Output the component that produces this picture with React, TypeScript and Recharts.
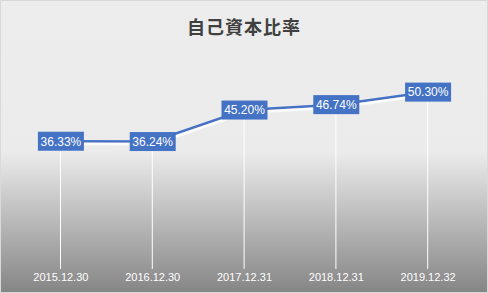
import React from 'react';
import { ComposedChart, Line, Bar, XAxis, YAxis, LabelList } from 'recharts';

const categories = ["2015.12.30", "2016.12.30", "2017.12.31", "2018.12.31", "2019.12.32"];
const ratios = [36.33, 36.24, 45.2, 46.74, 50.3];

const data = categories.map((c, i) => ({ date: c, ratio: ratios[i] }));

const BoxLabel = (props: any) => {
  const { x, y, value } = props;
  const text = `${Number(value).toFixed(2)}%`;
  const w = 46;
  const h = 19;
  return (
    <g>
      <rect x={x - w / 2} y={y - h / 2} width={w} height={h} fill="#4472c4" />
      <text
        x={x}
        y={y}
        dy="0.36em"
        textAnchor="middle"
        fill="#ffffff"
        fontSize={12}
        fontFamily="'Liberation Sans', Arial, sans-serif"
      >
        {text}
      </text>
    </g>
  );
};

const App: React.FC = () => {
  return (
    <div
      style={{
        position: 'fixed',
        left: 0,
        top: 0,
        width: 488,
        height: 293,
        boxSizing: 'border-box',
        border: '1px solid #d9d9d9',
        background: 'linear-gradient(to bottom, #ededed 0%, #ebebeb 52%, #868686 100%)',
        fontFamily: "'Noto Sans CJK JP', sans-serif",
      }}
    >
      <div
        style={{
          position: 'absolute',
          top: 12,
          width: '100%',
          textAlign: 'center',
          fontSize: 18,
          fontWeight: 'bold',
          color: '#404040',
          letterSpacing: 1,
        }}
      >
        自己資本比率
      </div>
      <div style={{ position: 'absolute', left: -1, top: -1 }}>
        <ComposedChart width={488} height={293} data={data} margin={{ top: 58, right: 14, bottom: 0, left: 15 }}>
          <defs>
            <filter id="whiteShadow" x="-10%" y="-50%" width="120%" height="200%">
              <feDropShadow dx="1" dy="2.5" stdDeviation="0.6" floodColor="#ffffff" floodOpacity="1" />
            </filter>
          </defs>
          <XAxis
            dataKey="date"
            axisLine={false}
            tickLine={false}
            tickSize={0}
            tickMargin={4}
            height={24}
            tick={{ fill: '#ffffff', fontSize: 11, fontFamily: "'Liberation Sans', Arial, sans-serif" }}
          />
          <YAxis hide domain={[0, 60]} />
          {/* drop lines */}
          <Bar dataKey="ratio" barSize={1} fill="#ffffff" isAnimationActive={false} />
          <Line
            dataKey="ratio"
            stroke="#4472c4"
            strokeWidth={2.5}
            dot={false}
            filter="url(#whiteShadow)"
            isAnimationActive={false}
          >
            <LabelList dataKey="ratio" content={<BoxLabel />} />
          </Line>
        </ComposedChart>
      </div>
    </div>
  );
};

export default App;
